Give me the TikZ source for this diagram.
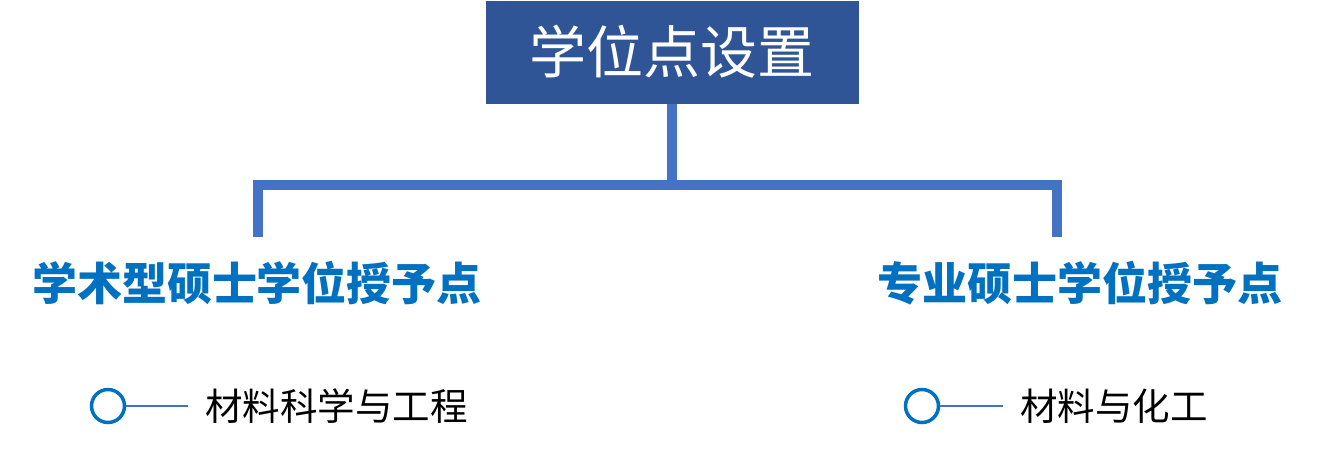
\documentclass[tikz,border=0pt]{standalone}
\usepackage{fontspec}
\usepackage{tikz}
\usetikzlibrary{positioning}
\newfontfamily\cjk{Noto Sans CJK SC}
\definecolor{titleblue}{HTML}{2F5597}
\definecolor{linkblue}{HTML}{4472C4}
\definecolor{textblue}{HTML}{0070C0}

\begin{document}
\begin{tikzpicture}[x=1pt,y=-1pt,
            titlebox/.style={fill=titleblue,text=white,minimum width=373pt,minimum height=103pt,font=\cjk\fontsize{57}{60}\selectfont},
            degree/.style={text=textblue,inner sep=0pt,font=\cjk\bfseries\fontsize{45}{48}\selectfont},
            dot/.style={circle,draw=textblue,line width=3.5pt,minimum size=33pt,inner sep=0pt},
            item/.style={inner sep=0pt,font=\cjk\fontsize{37.5}{40}\selectfont},
            link/.style={draw=linkblue,line width=10pt},
            tick/.style={draw=linkblue,line width=2pt}]
            \useasboundingbox (0,0) rectangle (1326,451);
            \node[titlebox] (top) at (672,52) {学位点设置};
            \node[degree] (acad) at (257,283) {学术型硕士学位授予点};
            \node[degree] (prof) at (1080,283) {专业硕士学位授予点};
            \coordinate (split) at (672,185);
            \coordinate (acad_end) at (258,237);
            \coordinate (prof_end) at (1057,237);
            % branches
            \draw[link] (top.south) -- (split);
            \draw[link] (acad_end) |- (split) -| (prof_end);
            % items
            \node[dot] (dot_1) at (108,406) {};
            \node[item] (mse) [right=97pt of dot_1.center] {材料科学与工程};
            \node[dot] (dot_2) at (922,406) {};
            \node[item] (mce) [right=98pt of dot_2.center] {材料与化工};
            \draw[tick,shorten >=17pt] (dot_1) -- (mse);
            \draw[tick,shorten >=17pt] (dot_2) -- (mce);
        \end{tikzpicture}
\end{document}
